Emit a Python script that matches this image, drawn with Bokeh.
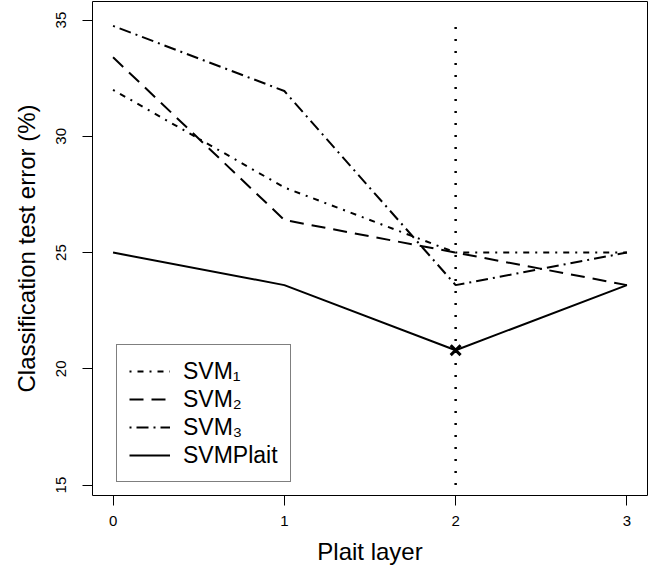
from bokeh.plotting import figure
from bokeh.models import Range1d, FixedTicker, Legend, LegendItem
from bokeh.embed import file_html
from bokeh.resources import INLINE

# ---- data ----
layers = [0, 1, 2, 3]
svm1 = [32.0, 27.8, 25.0, 25.0]
svm2 = [33.4, 26.4, 25.0, 23.6]
svm3 = [34.75, 31.95, 23.6, 25.0]
svmplait = [25.0, 23.6, 20.8, 23.6]
best_layer = [2]
best_error = [20.8]
vline_y = [15, 35]
x_ticks = [0, 1, 2, 3]
y_ticks = [15, 20, 25, 30, 35]
labels = ["SVM\u2081", "SVM\u2082", "SVM\u2083", "SVMPlait"]

FONT = "Liberation Sans"

p = figure(width=648, height=569, output_backend="svg", toolbar_location=None,
           x_range=Range1d(-0.12, 3.12), y_range=Range1d(14.55, 35.8),
           min_border_left=92, min_border_right=1, min_border_top=1,
           min_border_bottom=74)

p.xgrid.visible = False
p.ygrid.visible = False
p.outline_line_color = "black"
p.outline_line_width = 1
p.background_fill_color = "white"
p.border_fill_color = "white"

for ax in (p.xaxis[0], p.yaxis[0]):
    ax.axis_line_color = None
    ax.major_tick_line_color = "black"
    ax.major_tick_in = 0
    ax.major_tick_out = 10
    ax.minor_tick_line_color = None
    ax.major_label_text_font = FONT
    ax.major_label_text_font_size = "15px"
    ax.major_label_text_color = "black"
    ax.axis_label_text_font = FONT
    ax.axis_label_text_font_size = "24px"
    ax.axis_label_text_font_style = "normal"
    ax.axis_label_text_color = "black"

p.xaxis.ticker = FixedTicker(ticks=x_ticks)
p.yaxis.ticker = FixedTicker(ticks=y_ticks)
p.yaxis.major_label_orientation = "vertical"
p.xaxis.axis_label = "Plait layer"
p.yaxis.axis_label = "Classification test error (%)"
p.xaxis.major_label_standoff = 10
p.xaxis.axis_label_standoff = 9
p.yaxis.major_label_standoff = 16
p.yaxis.axis_label_standoff = 14

# vertical dotted line at best layer
p.segment(x0=best_layer, y0=[vline_y[0]], x1=best_layer, y1=[vline_y[1]],
          line_color="black", line_width=2.5, line_dash="2 10")

r1 = p.line(layers, svm1, line_color="black", line_width=2, line_dash="2 6 6 6")
r2 = p.line(layers, svm2, line_color="black", line_width=2, line_dash="14 8")
r3 = p.line(layers, svm3, line_color="black", line_width=2, line_dash="2 5 12 5")
r4 = p.line(layers, svmplait, line_color="black", line_width=2)

p.scatter(best_layer, best_error, marker="x", size=14, line_width=3, line_color="black")

legend = Legend(items=[LegendItem(label=l, renderers=[r]) for l, r in zip(labels, [r1, r2, r3, r4])],
                location=(24, 13), margin=0, padding=12, spacing=0,
                label_height=28, glyph_height=28, glyph_width=41, label_standoff=13,
                label_width=95,
                label_text_font=FONT, label_text_font_size="23px", label_text_color="black",
                border_line_color="black", border_line_width=1,
                background_fill_color="white", background_fill_alpha=1)
p.add_layout(legend)

open("out.html", "w").write(file_html(p, INLINE))
